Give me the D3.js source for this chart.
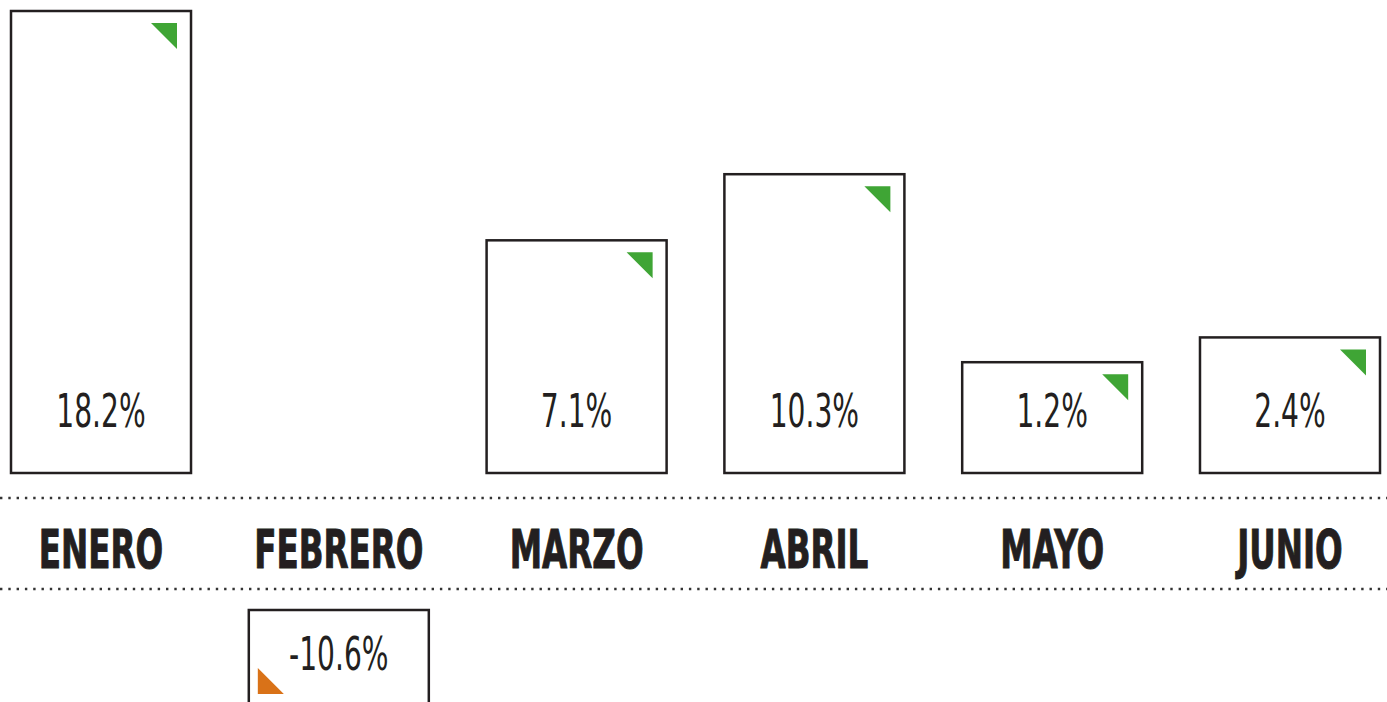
<!DOCTYPE html>
<html>
<head>
<meta charset="utf-8">
<script src="https://cdn.jsdelivr.net/npm/d3@7"></script>
<style>
  body { margin: 0; background: #fff; }
  text { font-family: "DejaVu Sans Condensed", "Liberation Sans Narrow", sans-serif; fill: #231f20; }
</style>
</head>
<body>
<div id="chart"></div>
<script>
// data
var months = ["ENERO", "FEBRERO", "MARZO", "ABRIL", "MAYO", "JUNIO"];
var values = [18.2, -10.6, 7.1, 10.3, 1.2, 2.4];
var labels = ["18.2%", "-10.6%", "7.1%", "10.3%", "1.2%", "2.4%"];

var width = 1387, height = 702;
var base = 473, negTop = 610;      // baseline of the up boxes / top of the down boxes
var lineTop = 498, lineBottom = 589;

var svg = d3.select("#chart")
    .append("svg")
    .attr("width", width)
    .attr("height", height);

var data = months.map(function (m, i) {
    return { month: m, value: values[i], label: labels[i] };
});

// x: one box per month
var x = d3.scaleBand()
    .domain(months)
    .range([11, 1380])
    .paddingInner(0.243)
    .paddingOuter(0);

// box height: boxes keep a minimum size so the label fits
var h = d3.scaleLinear()
    .domain([0, d3.max(values, function (v) { return Math.abs(v); })])
    .range([86, 462]);

// dotted lines round the month band
svg.selectAll(".dots")
    .data([lineTop, lineBottom])
    .enter()
    .append("line")
    .attr("x1", 0)
    .attr("x2", width)
    .attr("y1", function (d) { return d; })
    .attr("y2", function (d) { return d; })
    .attr("stroke", "#333")
    .attr("stroke-width", 2.4)
    .attr("stroke-dasharray", "2.4,5.9");

var g = svg.selectAll(".bar")
    .data(data)
    .enter()
    .append("g");

g.append("rect")
    .attr("x", function (d) { return x(d.month); })
    .attr("y", function (d) { return d.value >= 0 ? base - h(d.value) : negTop; })
    .attr("width", x.bandwidth())
    .attr("height", function (d) { return h(Math.abs(d.value)); })
    .attr("fill", "#fff")
    .attr("stroke", "#231f20")
    .attr("stroke-width", 2.5);

// little corner triangles
var tri = 26;
g.append("path")
    .attr("d", function (d) {
        var x0 = x(d.month), x1 = x0 + x.bandwidth();
        if (d.value >= 0) {
            var t = base - h(d.value) + 12, r = x1 - 14;
            return "M" + (r - tri) + "," + t + "L" + r + "," + t + "L" + r + "," + (t + tri) + "Z";
        } else {
            var l = x0 + 9, b = negTop + 84;
            return "M" + l + "," + (b - tri) + "L" + l + "," + b + "L" + (l + tri) + "," + b + "Z";
        }
    })
    .attr("fill", function (d) { return d.value >= 0 ? "#3fa535" : "#d97218"; });

// value labels
g.append("text")
    .attr("transform", function (d) {
        var cx = x(d.month) + x.bandwidth() / 2;
        var cy = d.value >= 0 ? base - 46 : negTop + 60;
        return "translate(" + cx + "," + cy + ") scale(0.68,1)";
    })
    .attr("text-anchor", "middle")
    .style("font-size", "46px")
    .text(function (d) { return d.label; });

// month labels
svg.selectAll(".month")
    .data(months)
    .enter()
    .append("text")
    .attr("transform", function (d) {
        return "translate(" + (x(d) + x.bandwidth() / 2) + ",568) scale(0.67,1)";
    })
    .attr("text-anchor", "middle")
    .style("font-size", "54px")
    .style("font-weight", "bold")
    .style("stroke", "#231f20")
    .style("stroke-width", 1)
    .text(function (d) { return d; });
</script>
</body>
</html>
